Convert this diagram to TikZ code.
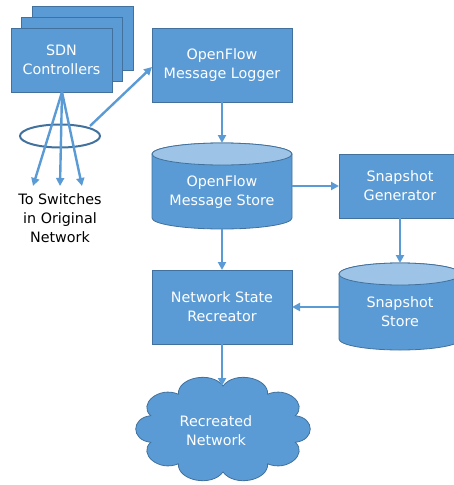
\documentclass[tikz,border=0pt]{standalone}
\usepackage{fontspec}
\setmainfont{DejaVu Sans}
\usetikzlibrary{arrows.meta}
\definecolor{boxblue}{HTML}{5B9BD5}
\definecolor{edgeblue}{HTML}{41719C}
\definecolor{topblue}{HTML}{9DC3E6}
\tikzset{
  px/.style={x={(1pt,0)},y={(0,-1pt)}},
  blk/.style={draw=edgeblue,fill=boxblue,line width=0.8pt},
  lbl/.style={text=white,font=\fontsize{14.3}{19}\selectfont,align=center,inner sep=0pt},
  flow/.style={draw=boxblue,line width=2.4pt,-{Triangle[length=8pt,width=8pt]}},
}
\begin{document}
\begin{tikzpicture}[px]
\useasboundingbox (0,0) rectangle (454,485);
\clip (0,0) rectangle (454,485);
% SDN controllers stack
\draw[blk] (32,6) rectangle (133,70);
\draw[blk] (21,17) rectangle (122,81);
\draw[blk] (11,28) rectangle (112,92);
\node[lbl] (sdn) at (61.5,60) {SDN\\Controllers};
\coordinate (sdnb) at (62,92);
% ellipse
\draw[edgeblue,line width=2pt] (60,136) ellipse [x radius=40,y radius=11.5];
\coordinate (ellr) at (90,126);
% logger
\draw[blk] (152,28) rectangle (292,102);
\node[lbl] (logger) at (222,65) {OpenFlow\\Message Logger};
\coordinate (logl) at (152,67);
\coordinate (logb) at (222,102);
% message store cylinder
\draw[blk] (152,154) -- (152,218) arc[start angle=180,end angle=0,x radius=70,y radius=11] -- (292,154) arc[start angle=0,end angle=-180,x radius=70,y radius=11] -- cycle;
\draw[draw=edgeblue,fill=topblue,line width=0.8pt] (222,154) ellipse [x radius=70,y radius=11];
\node[lbl] (mstore) at (222,192) {OpenFlow\\Message Store};
\coordinate (mst) at (222,143);
\coordinate (msb) at (222,229);
\coordinate (msr) at (292,186);
% snapshot generator
\draw[blk] (339,154) rectangle (461,218);
\node[lbl] (gen) at (400,186) {Snapshot\\Generator};
\coordinate (genl) at (339,186);
\coordinate (genb) at (400,218);
% snapshot store
\draw[blk] (339,274) -- (339,339) arc[start angle=180,end angle=0,x radius=61,y radius=11] -- (461,274) arc[start angle=0,end angle=-180,x radius=61,y radius=11] -- cycle;
\draw[draw=edgeblue,fill=topblue,line width=0.8pt] (400,274) ellipse [x radius=61,y radius=11];
\node[lbl] (sstore) at (400,312) {Snapshot\\Store};
\coordinate (sst) at (400,263);
\coordinate (ssl) at (339,307);
% recreator
\draw[blk] (152,270) rectangle (292,344);
\node[lbl] (rec) at (222,307) {Network State\\Recreator};
\coordinate (rect) at (222,270);
\coordinate (recr) at (292,307);
\coordinate (recb) at (222,344);
% cloud (drawn directly)
\draw[blk] ({223+76*cos(-90)},{429+43*sin(-90)})
  \foreach \k in {1,...,10} {
    .. controls ({223+94*cos(-90+(\k-1)*36+7)},{429+59*sin(-90+(\k-1)*36+7)})
            and ({223+94*cos(-90+\k*36-7)},{429+59*sin(-90+\k*36-7)})
    .. ({223+76*cos(-90+\k*36)},{429+43*sin(-90+\k*36)})
  } -- cycle;
\node[lbl] (cloudtxt) at (216,431) {Recreated\\Network};
\coordinate (cloudt) at (222,386);
% switches text
\node[font=\fontsize{14.3}{19}\selectfont,align=center,inner sep=0pt] (sw) at (60,218) {To Switches\\in Original\\Network};
\coordinate (s1) at (33,186);
\coordinate (s2) at (60,186);
\coordinate (s3) at (82,186);
% connectors
\draw[flow] (sdnb) -- (s1);
\draw[flow] (sdnb) -- (s2);
\draw[flow] (sdnb) -- (s3);
\draw[flow] (ellr) -- (logl);
\draw[flow] (logb) -- (mst);
\draw[flow] (msr) -- (genl);
\draw[flow] (genb) -- (sst);
\draw[flow] (ssl) -- (recr);
\draw[flow] (msb) -- (rect);
\draw[flow] (recb) -- (cloudt);
\end{tikzpicture}
\end{document}
